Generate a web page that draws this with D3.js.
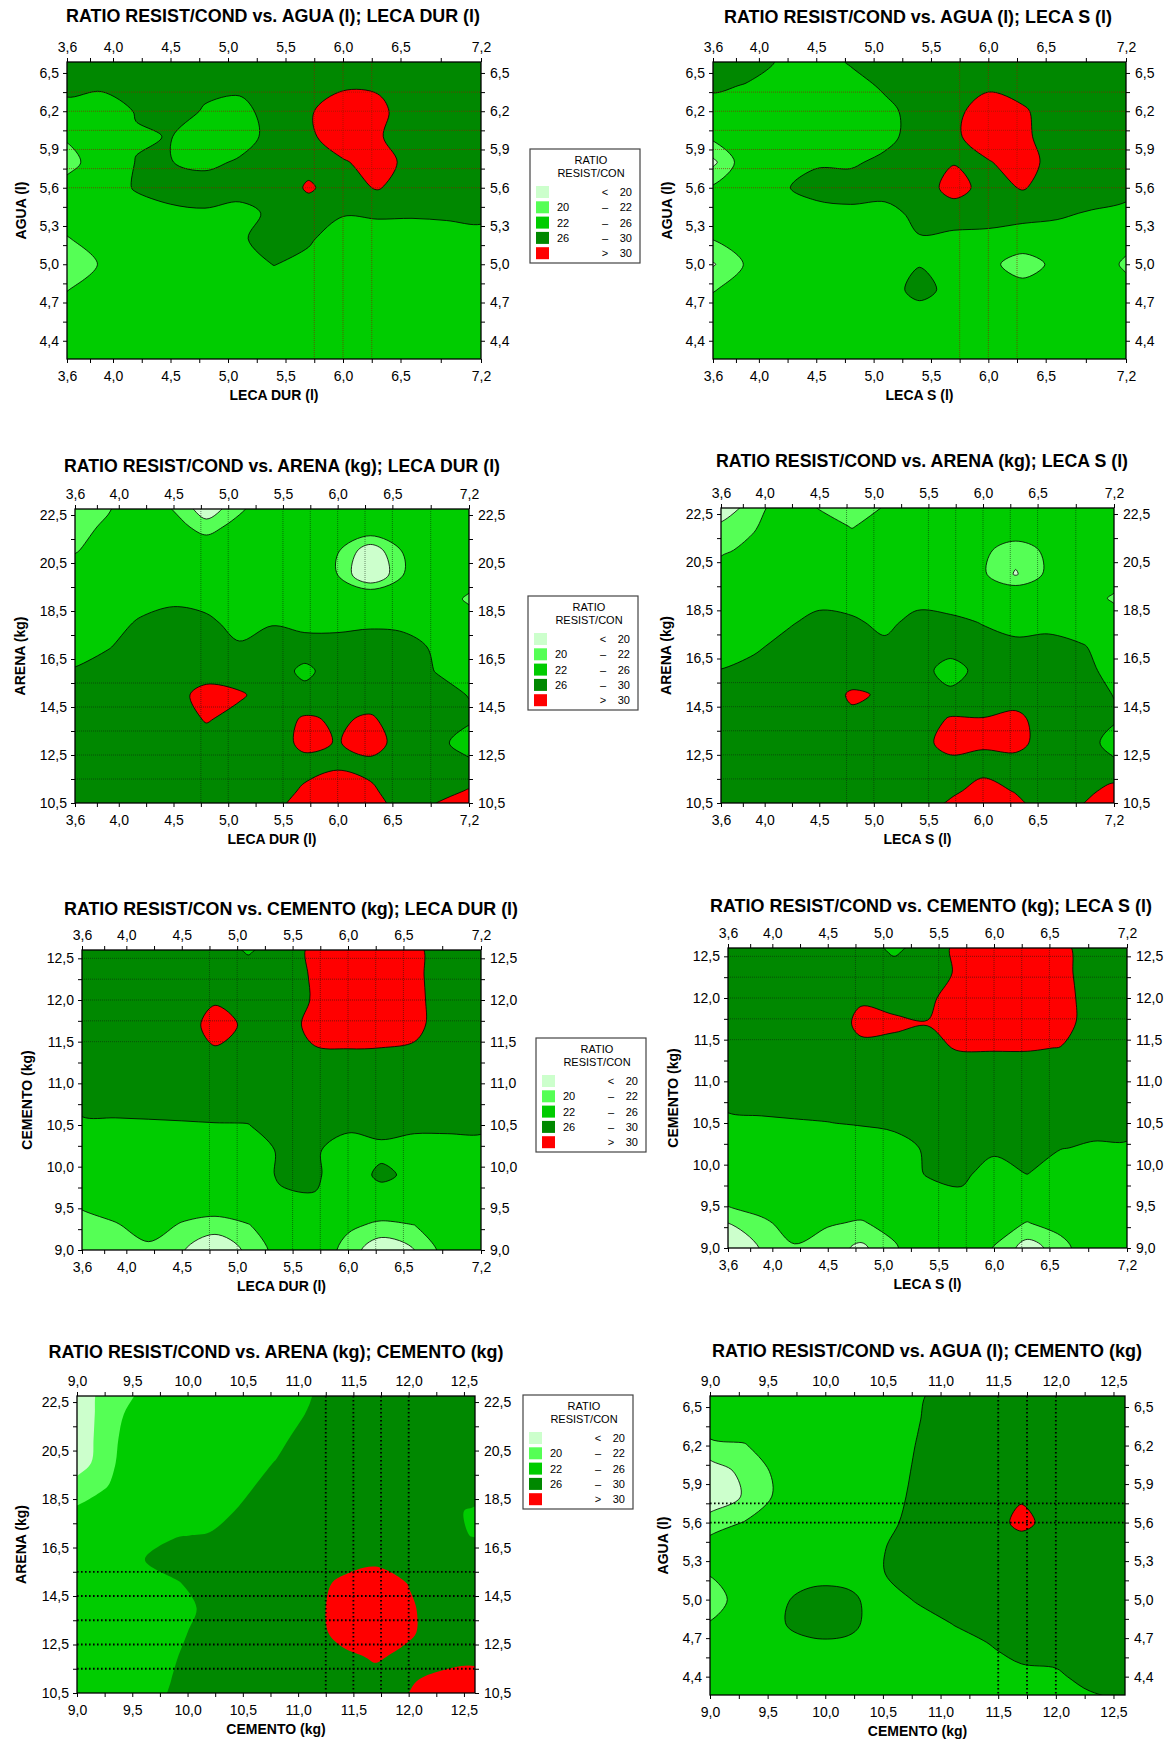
<!DOCTYPE html>
<html>
<head>
<meta charset="utf-8">
<script src="https://cdn.jsdelivr.net/npm/d3@7"></script>
<style>
  html, body { margin: 0; padding: 0; background: #fff; }
  svg { display: block; }
  text { font-family: "Liberation Sans", Arial, sans-serif; fill: #000; }
</style>
</head>
<body>
<svg id="chart" width="1175" height="1740"></svg>
<script>
// grid nodes
const lecaX = [3.6, 3.9, 4.2, 4.5, 4.8, 5.1, 5.4, 5.7, 6.0, 6.3, 6.6, 6.9, 7.2];
const cementoX = [9.0, 9.3, 9.6, 9.9, 10.2, 10.5, 10.8, 11.1, 11.4, 11.7, 12.0, 12.3, 12.6];
const aguaY = [6.6, 6.4, 6.2, 6.0, 5.8, 5.6, 5.4, 5.2, 5.0, 4.8, 4.6, 4.4, 4.2];
const arenaY = [23, 22, 21, 20, 19, 18, 17, 16, 15, 14, 13, 12, 11, 10];
const cementoY = [12.6, 12.3, 12.0, 11.7, 11.4, 11.1, 10.8, 10.5, 10.2, 9.9, 9.6, 9.3, 9.0, 8.7];

// ratio resist/cond, rows = y nodes (top to bottom), cols = x nodes
const ratioAguaLecaDur = [
  [28, 28, 28, 28, 28, 28, 28, 28, 29, 29, 28, 28, 28],
  [27.6, 26.6, 27.5, 28, 27, 27, 28, 29, 29.25, 29.3, 28, 28, 28],
  [24, 24, 26.2, 28, 25.6, 24.5, 28, 29.4, 33, 31.5, 27, 28, 28],
  [22.3, 24, 25.7, 26.1, 24.5, 24.2, 27.4, 29, 33, 30.6, 27, 28, 28],
  [21, 23.5, 26.1, 26.1, 25, 26.5, 28, 29, 29.5, 32, 28.5, 28, 28],
  [23, 24, 26.3, 28, 28, 28, 28, 30.4, 28.5, 30.3, 28, 28, 28],
  [23.5, 24, 24.5, 24.9, 25.5, 24.4, 27, 28.5, 26.3, 26.6, 26.5, 26.8, 27.5],
  [21.8, 23.5, 24, 24, 24, 25.5, 27.5, 26.5, 24, 24, 24, 24, 24],
  [20.5, 22.2, 24, 24, 24, 24.5, 26.1, 25, 24, 24, 24, 24, 24],
  [21.9, 23.5, 24, 24, 24, 24, 24, 24, 24, 24, 24, 24, 24],
  [23.5, 24, 24, 24, 24, 24, 24, 24, 24, 24, 24, 24, 24],
  [24, 24, 24, 24, 24, 24, 24, 24, 24, 24, 24, 24, 24],
  [24, 24, 24, 24, 24, 24, 24, 24, 24, 24, 24, 24, 24]
];
const ratioAguaLecaS = [
  [28, 28, 25.5, 24, 26.5, 28, 28, 28, 28, 28, 28, 28, 28],
  [26.8, 25.7, 24, 24, 24.5, 26.6, 28, 28, 29, 28.5, 28, 28, 28],
  [24, 24, 24, 24, 24, 25, 27.5, 28.5, 33, 30.5, 28, 28, 28],
  [22.5, 24, 24, 24, 24, 25, 27.5, 29.2, 32.5, 30.8, 28, 28, 28],
  [19.5, 23.5, 25, 25.5, 25.5, 26.8, 28, 29.8, 29.7, 32, 28, 28, 28],
  [22.3, 24, 25.5, 27.5, 27.5, 27.5, 28, 31.5, 28.5, 30.3, 28, 28, 28],
  [24, 24, 24, 24.5, 25.2, 24.8, 27, 28, 27.5, 27, 26.5, 25.7, 24.4],
  [22.1, 23.8, 24, 24, 24, 24, 25.8, 25, 25, 24.5, 24.5, 24, 23],
  [19.8, 22.3, 24, 24, 24, 24, 25.8, 24.5, 23, 20.2, 23, 24, 21.5],
  [21.8, 23.5, 24, 24, 24, 24, 27.5, 24.5, 24, 23.5, 24, 24, 23],
  [23.5, 24, 24, 24, 24, 24, 24, 24, 24, 24, 24, 24, 24],
  [24, 24, 24, 24, 24, 24, 24, 24, 24, 24, 24, 24, 24],
  [24, 24, 24, 24, 24, 24, 24, 24, 24, 24, 24, 24, 24]
];
const ratioArenaLecaDur = [
  [20.5, 21.5, 23.5, 21.5, 18, 21, 23.5, 24, 24, 24, 24, 24, 24],
  [21, 22.5, 24, 23, 21, 23, 24, 24, 24, 24, 24, 24, 24],
  [21.8, 23.5, 24, 24, 24, 24, 24, 24, 22.2, 18.5, 22.2, 24, 24],
  [23.5, 24, 24, 24, 24, 24, 24, 24, 22, 17.5, 22, 24, 23.5],
  [24, 24, 24.5, 25.3, 24.5, 24, 24, 24, 24, 25, 24, 24, 21.5],
  [24, 24.5, 26.5, 27.5, 27, 24.5, 25.8, 25, 25, 25.5, 25.2, 24.5, 23.5],
  [24.5, 25.8, 27.5, 28, 28, 26.5, 27.5, 27.5, 27.5, 27.5, 27.3, 25.5, 24.5],
  [26.3, 27.5, 28, 28, 27.5, 27.5, 27.5, 25.3, 27.5, 28, 27.5, 25.9, 25],
  [28, 28, 28, 28, 32, 30.6, 28, 27, 28, 28, 28, 27, 25.9],
  [28, 28, 28, 27.5, 30.4, 28.5, 28, 30.5, 29.5, 30.5, 28, 28, 26.5],
  [28, 28, 28, 28, 28, 28, 28, 31, 29.8, 31.5, 28.5, 27, 24.5],
  [28, 28, 28, 28, 28, 28, 28, 28.5, 29.7, 28.8, 28, 28, 27],
  [28, 28, 28, 28, 28, 28, 27.5, 30.8, 32, 30.8, 27.5, 28.5, 30.3],
  [28, 28, 28, 28, 28, 28, 29, 32.5, 33, 31.5, 29, 31.5, 32]
];
const ratioArenaLecaS = [
  [18.5, 20.5, 23.5, 21.3, 20.5, 21.8, 24, 24, 24, 24, 24, 24, 24],
  [20.3, 21.7, 24, 23.5, 21.8, 23.5, 24, 24, 24, 24, 24, 24, 24],
  [21.5, 22.8, 24, 24, 24, 24, 24, 24, 22.5, 20.8, 22.5, 24, 24],
  [23.5, 24, 24, 24, 24, 24, 24, 24, 22.3, 19.8, 22.5, 24, 23.8],
  [24, 24, 24, 24.5, 24, 24, 24.5, 24, 24, 24.5, 24, 24, 21.5],
  [24, 24.5, 25.3, 27.5, 26.8, 24.8, 27.5, 27, 25.8, 24.5, 24.8, 24, 23.8],
  [24.5, 25.2, 27.5, 28, 28, 27, 28, 27.5, 27.5, 27, 27.3, 26.3, 24.5],
  [26.1, 27.5, 28, 28, 28, 28, 27.5, 24.5, 27.3, 28, 28, 27, 25],
  [28, 28, 28, 28, 30.5, 29.6, 28, 26.8, 28, 28, 28, 27.5, 25.9],
  [28, 28, 28, 28, 29.3, 28.5, 28, 30.3, 30.1, 31, 28, 28, 26.5],
  [28, 28, 28, 28, 28, 28, 28.5, 31.5, 30.4, 31, 28.5, 28, 24.5],
  [28, 28, 28, 28, 28, 28, 28, 28.5, 29, 28.5, 28, 28, 27],
  [28, 28, 28, 28, 28, 28, 28, 29.3, 31.2, 29.8, 28, 28.5, 31.5],
  [28, 28, 28, 28, 28, 28, 28.5, 31.5, 33, 31.5, 28.5, 31, 32.5]
];
const ratioCementoLecaDur = [
  [28, 28, 28, 28, 28, 25.5, 28, 30.8, 33, 33, 30.8, 28, 28],
  [28, 28, 28, 28, 28, 28, 28, 30.5, 33, 33, 30.8, 28, 28],
  [28, 28, 28, 28, 29.6, 28.5, 28.3, 30.3, 33, 33, 31, 28, 28],
  [28, 28, 28, 28, 31.5, 29.3, 28.5, 31, 32, 32, 31, 28, 28],
  [28, 28, 28, 28, 29.7, 28.5, 28, 29.8, 29.9, 29.8, 29.5, 28, 28],
  [28, 28, 28, 28, 28, 28, 28, 28, 28, 28, 28, 28, 28],
  [27, 27, 27, 27, 27, 27, 27, 27, 27, 27, 27, 27, 27],
  [25.5, 25.6, 25.7, 25.8, 25.9, 25.95, 27, 27, 26.7, 27, 26.8, 26.8, 26.9],
  [24, 24, 24, 24, 24, 24.5, 26.4, 26.4, 24.5, 25.3, 24.5, 24.5, 24.5],
  [24, 24, 24, 24, 24, 24.5, 26.4, 26.4, 24.5, 26.6, 25.3, 24, 24],
  [22.8, 23.5, 24, 23.5, 23.5, 24, 25.5, 25.8, 24, 24.5, 24, 24, 24],
  [20.8, 21.8, 23, 21.8, 21.2, 21.9, 23.5, 24, 22.5, 21.5, 22, 23.5, 24],
  [20, 21, 21.5, 20.2, 18, 20.5, 23, 24, 21, 18.5, 20, 23, 24],
  [19.5, 21, 21.5, 20, 18, 20.5, 23, 24, 21, 18.5, 20, 23, 24]
];
const ratioCementoLecaS = [
  [28, 28, 28, 28, 28, 25, 28, 31, 33, 33, 31, 28, 28],
  [28, 28, 28, 28, 28, 28, 28, 30.7, 33, 33, 31.2, 28, 28],
  [28, 28, 28, 28, 29.6, 29, 29.2, 32, 33, 33, 31.7, 28, 28],
  [28, 28, 28, 28, 30.8, 30.5, 30.1, 32, 33, 33, 31.7, 28, 28],
  [28, 28, 28, 28, 29.3, 29.2, 29.2, 30.3, 30.3, 30.3, 29.9, 28, 28],
  [28, 28, 28, 28, 28, 28, 28, 28, 28, 28, 28, 28, 28],
  [27, 27, 27, 27, 27, 27, 27, 27, 27, 27, 27, 27, 27],
  [25.3, 25.6, 25.8, 25.95, 26.2, 26.8, 27, 27, 27, 27, 27, 26.8, 26.8],
  [24, 24, 24, 24, 24.5, 24.5, 26.5, 26.8, 26.5, 27, 26.1, 25.7, 25.7],
  [24, 24, 24, 24, 24, 24, 26.3, 26.6, 25, 26.1, 24.5, 24.5, 24.5],
  [23, 23.5, 24, 24, 23.5, 24, 24.5, 25.5, 24, 24, 24, 24, 24],
  [20, 21.5, 23, 22.2, 21.8, 22.8, 24, 24, 23, 21.9, 23, 24, 24],
  [18.5, 20.1, 21.8, 21, 19.5, 21.7, 24, 24, 21.9, 19, 21, 24, 24],
  [18, 20, 21.8, 21, 19.5, 21.7, 24, 24, 21.9, 19, 21, 24, 24]
];
const ratioArenaCemento = [
  [18.5, 21, 22.2, 24, 24, 24, 24, 25.5, 28, 28, 28, 28, 28],
  [18.5, 21.3, 23, 24, 24, 24, 24, 26.3, 28, 28, 28, 28, 28],
  [18.5, 21.5, 23.5, 24, 24, 24, 24.7, 28, 28, 28, 28, 28, 28],
  [18.8, 21.6, 24, 24, 24, 24, 26.2, 28, 28, 28, 28, 28, 28],
  [21, 22.1, 24, 24, 24, 25, 28, 28, 28, 28, 28, 28, 28],
  [22.3, 24, 24, 24, 24, 26.7, 28, 28, 28, 28, 28, 27, 25.5],
  [24, 24, 25.5, 25.8, 26.3, 27.5, 28, 28, 28, 28, 28, 27, 25.8],
  [24, 24, 25.9, 28, 28, 28, 28, 28, 28, 29, 28, 28, 28],
  [24, 24, 24, 25.6, 28, 28, 28, 28, 31, 32.5, 29.9, 28, 28],
  [24, 24, 24, 24, 27.3, 28, 28, 28, 32, 34, 30.6, 28, 28],
  [24, 24, 24, 25, 28, 28, 28, 28, 31.5, 33.5, 30.6, 28, 28],
  [24, 24, 24, 25.9, 28, 28, 28, 28, 29, 30.5, 29, 28, 29],
  [24, 24, 24, 26.4, 28, 28, 28, 28, 28, 28.5, 29.5, 31.5, 31.5],
  [24, 24, 24, 27, 28, 28, 28, 28, 28, 28, 30.5, 33, 33]
];
const ratioAguaCemento = [
  [24, 24, 24, 24, 24, 24, 25.3, 28, 28, 28, 28, 28, 28],
  [24, 24, 24, 24, 24, 24, 25.8, 28, 28, 28, 28, 28, 28],
  [21.3, 21.8, 24, 24, 24, 24, 26.15, 28, 28, 28, 28, 28, 28],
  [19, 20.5, 22.6, 24, 24, 24, 26.5, 28, 28, 28, 28, 28, 28],
  [18.5, 20.2, 22.5, 24, 24, 24, 27, 28, 28, 29.6, 28, 28, 28],
  [21, 22.1, 24, 24, 24, 24.25, 28, 28, 28, 31, 28.5, 28, 28],
  [23, 24, 24, 24, 24, 25.8, 28, 28, 28, 28, 28, 28, 28],
  [22.1, 24, 24, 24.5, 24.5, 25.85, 28, 28, 28, 28, 28, 28, 28],
  [21, 23, 25.3, 27.5, 27, 24, 26.4, 28, 28, 28, 28, 28, 28],
  [22.2, 24, 25.6, 27.5, 27, 24, 24, 25.9, 28, 28, 28, 28, 28],
  [24, 24, 24, 24.5, 24.5, 24, 24, 24, 25, 28, 28, 28, 28],
  [24, 24, 24, 24, 24, 24, 24, 24, 24, 24, 25, 28, 28],
  [24, 24, 24, 24, 24, 24, 24, 24, 24, 24, 24, 24.5, 25.5]
];

// contour classes
const levels = [20, 22, 26, 30];
const levelColors = ["#ccffcc", "#55ff55", "#00cc00", "#008800", "#ff0000"];
const legendTitle = ["RATIO", "RESIST/CON"];
const legendRows = [["", "<", "20"], ["20", "\u2013", "22"], ["22", "\u2013", "26"], ["26", "\u2013", "30"], ["", ">", "30"]];

// ticks and labels
const lecaTicks = [3.6, 3.8, 4.0, 4.25, 4.5, 4.75, 5.0, 5.25, 5.5, 5.75, 6.0, 6.25, 6.5, 6.85, 7.2];
const lecaLabels = [3.6, 4.0, 4.5, 5.0, 5.5, 6.0, 6.5, 7.2];
const aguaTicks = [4.4, 4.55, 4.7, 4.85, 5.0, 5.15, 5.3, 5.45, 5.6, 5.75, 5.9, 6.05, 6.2, 6.35, 6.5];
const aguaLabels = [4.4, 4.7, 5.0, 5.3, 5.6, 5.9, 6.2, 6.5];
const arenaTicks = [10.5, 11.5, 12.5, 13.5, 14.5, 15.5, 16.5, 17.5, 18.5, 19.5, 20.5, 21.5, 22.5];
const arenaLabels = [10.5, 12.5, 14.5, 16.5, 18.5, 20.5, 22.5];
const cementoTicks = [9.0, 9.25, 9.5, 9.75, 10.0, 10.25, 10.5, 10.75, 11.0, 11.25, 11.5, 11.75, 12.0, 12.25, 12.5];
const cementoLabels = [9.0, 9.5, 10.0, 10.5, 11.0, 11.5, 12.0, 12.5];

// reference grid lines
const refLecaA = [5.75, 6.0, 6.25];
const refAguaA = [5.6, 5.75, 5.9, 6.05, 6.2, 6.35];
const refLecaB = [4.75, 5.0, 5.5, 5.75, 6.0, 6.25, 6.5, 6.85];
const refArena = [11.5, 12.5, 13.5, 14.5, 15.5];
const refLecaC = [4.75, 5.0, 5.5, 5.75, 6.0, 6.25, 6.5];
const refCementoY = [11.5, 11.75, 12.0, 12.25, 12.5];
const refCementoA = [11.25, 11.5, 11.75, 12.0];
const refCementoB = [11.5, 11.75, 12.0];
const refAguaB = [5.6, 5.75];

const axes = {
  leca: { domain: [3.6, 7.2], ticks: lecaTicks, labels: lecaLabels },
  cemX: { domain: [9.0, 12.6], ticks: cementoTicks, labels: cementoLabels },
  agua: { domain: [4.257, 6.586], ticks: aguaTicks, labels: aguaLabels },
  arena: { domain: [10.5, 22.75], ticks: arenaTicks, labels: arenaLabels },
  cemY: { domain: [9.0, 12.6], ticks: cementoTicks, labels: cementoLabels }
};

const refStyles = {
  brown: { stroke: "#8b2000", width: 0.8, dash: "1,1", opacity: 0.8 },
  fine: { stroke: "#102010", width: 0.8, dash: "1,1", opacity: 0.65 },
  bold: { stroke: "#000", width: 1.8, dash: "1.6,2.4", opacity: 1 }
};

const panels = [
  { title: "RATIO RESIST/COND vs. AGUA (l); LECA DUR (l)", xName: "LECA DUR (l)", yName: "AGUA (l)",
    gx: lecaX, gy: aguaY, z: ratioAguaLecaDur, xa: "leca", ya: "agua", vl: refLecaA, hl: refAguaA, ref: "brown",
    lines: true, box: [67, 62, 481, 359], tpos: [273, 22, 414], yOff: 46, legend: [530, 149] },
  { title: "RATIO RESIST/COND vs. AGUA (l); LECA S (l)", xName: "LECA S (l)", yName: "AGUA (l)",
    gx: lecaX, gy: aguaY, z: ratioAguaLecaS, xa: "leca", ya: "agua", vl: refLecaA, hl: refAguaA, ref: "brown",
    lines: true, box: [713, 62, 1126, 359], tpos: [918, 23, 388], yOff: 46 },
  { title: "RATIO RESIST/COND vs. ARENA (kg); LECA DUR (l)", xName: "LECA DUR (l)", yName: "ARENA (kg)",
    gx: lecaX, gy: arenaY, z: ratioArenaLecaDur, xa: "leca", ya: "arena", vl: refLecaB, hl: refArena, ref: "fine",
    lines: true, box: [75, 509, 469, 803], tpos: [282, 472, 436], yOff: 55, legend: [528, 596] },
  { title: "RATIO RESIST/COND vs. ARENA (kg); LECA S (l)", xName: "LECA S (l)", yName: "ARENA (kg)",
    gx: lecaX, gy: arenaY, z: ratioArenaLecaS, xa: "leca", ya: "arena", vl: refLecaB, hl: refArena, ref: "fine",
    lines: true, box: [721, 508, 1114, 803], tpos: [922, 467, 412], yOff: 55 },
  { title: "RATIO RESIST/CON vs. CEMENTO (kg); LECA DUR (l)", xName: "LECA DUR (l)", yName: "CEMENTO (kg)",
    gx: lecaX, gy: cementoY, z: ratioCementoLecaDur, xa: "leca", ya: "cemY", vl: refLecaC, hl: refCementoY, ref: "fine",
    lines: true, box: [82, 950, 481, 1250], tpos: [291, 915, 454], yOff: 55, legend: [536, 1038] },
  { title: "RATIO RESIST/COND vs. CEMENTO (kg); LECA S (l)", xName: "LECA S (l)", yName: "CEMENTO (kg)",
    gx: lecaX, gy: cementoY, z: ratioCementoLecaS, xa: "leca", ya: "cemY", vl: refLecaC, hl: refCementoY, ref: "fine",
    lines: true, box: [728, 948, 1127, 1248], tpos: [931, 912, 442], yOff: 55 },
  { title: "RATIO RESIST/COND vs. ARENA (kg); CEMENTO (kg)", xName: "CEMENTO (kg)", yName: "ARENA (kg)",
    gx: cementoX, gy: arenaY, z: ratioArenaCemento, xa: "cemX", ya: "arena", vl: refCementoA, hl: refArena, ref: "bold",
    lines: false, box: [77, 1396, 475, 1693], tpos: [276, 1358, 455], yOff: 56, legend: [523, 1395] },
  { title: "RATIO RESIST/COND vs. AGUA (l); CEMENTO (kg)", xName: "CEMENTO (kg)", yName: "AGUA (l)",
    gx: cementoX, gy: aguaY, z: ratioAguaCemento, xa: "cemX", ya: "agua", vl: refCementoB, hl: refAguaB, ref: "bold",
    lines: true, box: [710, 1396, 1125, 1695], tpos: [927, 1357, 430], yOff: 47 }
];

const svg = d3.select("#chart");
const fmt = v => v.toFixed(1).replace(".", ",");
const near = (arr, v) => arr.some(a => Math.abs(a - v) < 1e-6);
const smooth = d3.line().curve(d3.curveCatmullRomClosed.alpha(0.5));

panels.forEach((p, idx) => {
  const [L, T, R, B] = p.box;
  const xa = axes[p.xa], ya = axes[p.ya];
  const x = d3.scaleLinear().domain(xa.domain).range([L, R]);
  const y = d3.scaleLinear().domain(ya.domain).range([B, T]);
  const g = svg.append("g");

  svg.append("clipPath").attr("id", "clip" + idx)
    .append("rect").attr("x", L).attr("y", T).attr("width", R - L).attr("height", B - T);
  const plot = g.append("g").attr("clip-path", `url(#clip${idx})`);
  plot.append("rect").attr("x", L).attr("y", T).attr("width", R - L).attr("height", B - T)
    .attr("fill", levelColors[0]);

  // filled contours from the grid
  const nx = p.gx.length, ny = p.gy.length;
  const sx = p.gx[1] - p.gx[0], sy = p.gy[1] - p.gy[0];
  const toPx = c => [x(p.gx[0] + (c[0] - 0.5) * sx), y(p.gy[0] + (c[1] - 0.5) * sy)];
  const bands = d3.contours().size([nx, ny]).thresholds(levels)(p.z.flat());
  bands.forEach((band, i) => {
    const d = band.coordinates.map(poly => poly.map(ring => {
      let pts = ring.map(toPx);
      const a = pts[0], b = pts[pts.length - 1];
      if (Math.abs(a[0] - b[0]) < 1e-9 && Math.abs(a[1] - b[1]) < 1e-9) pts = pts.slice(0, -1);
      return smooth(pts);
    }).join("")).join("");
    plot.append("path").attr("d", d)
      .attr("fill", levelColors[i + 1]).attr("fill-rule", "evenodd")
      .attr("stroke", p.lines ? "#000" : "none").attr("stroke-width", 0.8);
  });

  // reference lines
  const rs = refStyles[p.ref];
  const refs = plot.append("g").attr("stroke", rs.stroke).attr("stroke-width", rs.width)
    .attr("stroke-dasharray", rs.dash).attr("opacity", rs.opacity);
  refs.selectAll("line.v").data(p.vl).join("line").attr("class", "v")
    .attr("x1", d => x(d)).attr("x2", d => x(d)).attr("y1", T).attr("y2", B);
  refs.selectAll("line.h").data(p.hl).join("line").attr("class", "h")
    .attr("x1", L).attr("x2", R).attr("y1", d => y(d)).attr("y2", d => y(d));

  g.append("rect").attr("x", L).attr("y", T).attr("width", R - L).attr("height", B - T)
    .attr("fill", "none").attr("stroke", "#000").attr("stroke-width", 1.3);

  // axes on all four sides
  const mk = (fn, sc, a, pad) => fn(sc).tickValues(a.ticks).tickSize(4).tickPadding(pad)
    .tickFormat(v => near(a.labels, v) ? fmt(v) : "");
  const sides = [
    [d3.axisBottom, x, xa, 8, `translate(0,${B})`],
    [d3.axisTop, x, xa, 6, `translate(0,${T})`],
    [d3.axisLeft, y, ya, 4, `translate(${L},0)`],
    [d3.axisRight, y, ya, 5, `translate(${R},0)`]
  ];
  sides.forEach(([fn, sc, a, pad, tr]) => {
    const ax = g.append("g").attr("transform", tr).call(mk(fn, sc, a, pad));
    ax.select(".domain").remove();
    ax.selectAll("line").attr("stroke", "#000");
    ax.selectAll("text").attr("font-size", 14).attr("font-family", '"Liberation Sans", Arial, sans-serif').attr("fill", "#111");
  });

  g.append("text").attr("x", p.tpos[0]).attr("y", p.tpos[1]).attr("text-anchor", "middle")
    .attr("font-size", 17.5).attr("font-weight", "bold")
    .attr("textLength", p.tpos[2]).attr("lengthAdjust", "spacingAndGlyphs").text(p.title);
  g.append("text").attr("x", (L + R) / 2).attr("y", B + 41).attr("text-anchor", "middle")
    .attr("font-size", 14).attr("font-weight", "bold").text(p.xName);
  g.append("text").attr("transform", `translate(${L - p.yOff},${(T + B) / 2}) rotate(-90)`)
    .attr("text-anchor", "middle").attr("dy", "0.35em")
    .attr("font-size", 14).attr("font-weight", "bold").text(p.yName);

  if (p.legend) {
    const lg = svg.append("g").attr("transform", `translate(${p.legend[0]},${p.legend[1]})`);
    lg.append("rect").attr("width", 110).attr("height", 114).attr("fill", "#fff")
      .attr("stroke", "#444").attr("stroke-width", 1.2);
    legendTitle.forEach((t, i) => lg.append("text").attr("x", 61).attr("y", 15 + i * 13)
      .attr("text-anchor", "middle").attr("font-size", 11).text(t));
    legendRows.forEach((r, i) => {
      const yy = 37 + i * 15.3;
      lg.append("rect").attr("x", 6).attr("y", yy).attr("width", 13).attr("height", 12).attr("fill", levelColors[i]);
      lg.append("text").attr("x", 27).attr("y", yy + 10).attr("font-size", 11).text(r[0]);
      lg.append("text").attr("x", 75).attr("y", yy + 10).attr("text-anchor", "middle").attr("font-size", 11).text(r[1]);
      lg.append("text").attr("x", 102).attr("y", yy + 10).attr("text-anchor", "end").attr("font-size", 11).text(r[2]);
    });
  }
});
</script>
</body>
</html>
